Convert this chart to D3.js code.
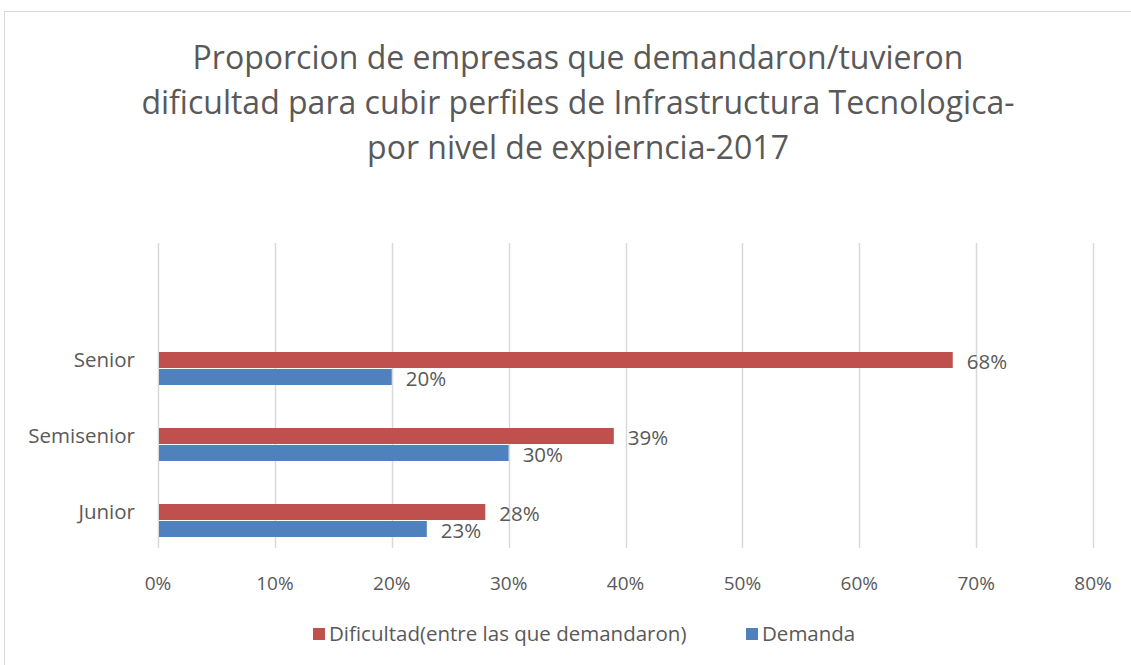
<!DOCTYPE html>
<html>
<head>
<meta charset="utf-8">
<script src="https://d3js.org/d3.v7.min.js"></script>
<style>
  body { margin: 0; background: #fff; }
  text { font-family: "Open Sans", sans-serif; fill: #595959; }
</style>
</head>
<body>
<script>
  "use strict";

  var categories = ["Junior", "Semisenior", "Senior"];
  var seriesNames = ["Dificultad(entre las que demandaron)", "Demanda"];
  var dificultad = [0.28, 0.39, 0.68];
  var demanda = [0.23, 0.30, 0.20];
  var ticks = [0, 0.1, 0.2, 0.3, 0.4, 0.5, 0.6, 0.7, 0.8];
  var titleLines = [
    "Proporcion de empresas que demandaron/tuvieron",
    "dificultad para cubir perfiles de Infrastructura Tecnologica-",
    "por nivel de expierncia-2017"
  ];
  var colors = ["#c0504d", "#4f81bd"];

  var W = 1131, H = 665;
  var svg = d3.select("body").append("svg").attr("width", W).attr("height", H);

  // chart frame
  svg.append("rect")
    .attr("x", 4.5).attr("y", 11.5)
    .attr("width", 1140).attr("height", 700)
    .attr("fill", "none").attr("stroke", "#d9d9d9");

  // title
  svg.selectAll(".title").data(titleLines).enter().append("text")
    .attr("class", "title")
    .attr("x", 578)
    .attr("y", function (d, i) { return 69 + i * 45; })
    .attr("text-anchor", "middle")
    .style("font-size", "32px")
    .text(function (d) { return d; });

  var x = d3.scaleLinear().domain([0, 0.8]).range([158, 1093]);
  var y = d3.scaleBand().domain(categories.slice().reverse()).range([330, 558]);

  // gridlines
  svg.selectAll(".grid").data(ticks).enter().append("line")
    .attr("x1", function (d) { return Math.round(x(d)) + 0.5; })
    .attr("x2", function (d) { return Math.round(x(d)) + 0.5; })
    .attr("y1", 243).attr("y2", 548)
    .attr("stroke", "#d9d9d9").attr("stroke-width", 1.5);

  // x tick labels
  svg.selectAll(".tick").data(ticks).enter().append("text")
    .attr("x", function (d) { return x(d); })
    .attr("y", 583)
    .attr("dy", "0.35em")
    .attr("text-anchor", "middle")
    .style("font-size", "19px")
    .text(function (d) { return d3.format(".0%")(d); });

  // category labels
  svg.selectAll(".cat").data(categories).enter().append("text")
    .attr("x", 135)
    .attr("y", function (d) { return y(d) + y.bandwidth() / 2 - 8; })
    .attr("dy", "0.35em")
    .attr("text-anchor", "end")
    .style("font-size", "20.5px")
    .text(function (d) { return d; });

  var barH = 16;
  var series = [dificultad, demanda];
  series.forEach(function (vals, s) {
    var g = svg.append("g");
    g.selectAll("rect").data(vals).enter().append("rect")
      .attr("x", x(0) + 1)
      .attr("y", function (d, i) { return y(categories[i]) + y.bandwidth() / 2 - barH + s * (barH + 1); })
      .attr("width", function (d) { return x(d) - x(0) - 1; })
      .attr("height", barH)
      .attr("fill", colors[s]);
    g.selectAll("text").data(vals).enter().append("text")
      .attr("x", function (d) { return x(d) + 14; })
      .attr("y", function (d, i) { return y(categories[i]) + y.bandwidth() / 2 - barH / 2 + s * (barH + 1) + 2; })
      .attr("dy", "0.35em")
      .style("font-size", "20.5px")
      .text(function (d) { return d3.format(".0%")(d); });
  });

  // legend
  var legendX = [313, 746];
  seriesNames.forEach(function (name, i) {
    svg.append("rect")
      .attr("x", legendX[i]).attr("y", 628)
      .attr("width", 12).attr("height", 12)
      .attr("fill", colors[i]);
    svg.append("text")
      .attr("x", legendX[i] + 16).attr("y", 634)
      .attr("dy", "0.35em")
      .style("font-size", "20.5px")
      .text(name);
  });
</script>
</body>
</html>
